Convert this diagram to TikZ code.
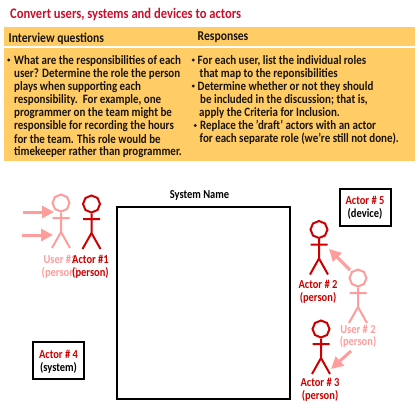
\documentclass[tikz,border=0pt]{standalone}
\usepackage{fontspec}
\setmainfont{Carlito}[BoldFont=Carlito Bold,FakeStretch=0.86]
\usetikzlibrary{arrows.meta,shapes.geometric}
\definecolor{band}{HTML}{FFCC66}
\definecolor{darkred}{HTML}{CC0000}
\definecolor{lightred}{HTML}{FF9C9C}
\definecolor{titlered}{HTML}{C8102E}
\definecolor{bodyink}{HTML}{1A1410}
\tikzset{
  x=1pt,y=-1pt,
  bandbox/.style={fill=band,draw=none},
  linetext/.style={anchor=west,inner sep=0pt,font=\fontsize{12.75}{13}\bfseries\selectfont,text=bodyink},
  dotmark/.style={circle,fill=bodyink,draw=none,inner sep=0pt,minimum size=3.2pt},
  headtext/.style={anchor=west,inner sep=0pt,font=\fontsize{13.5}{14}\bfseries\selectfont,text=bodyink},
  titletext/.style={anchor=west,inner sep=0pt,font=\fontsize{14.6}{15}\bfseries\selectfont,text=titlered},
  lab/.style={anchor=center,inner sep=0pt,font=\fontsize{12.2}{13}\bfseries\selectfont},
  blackbox/.style={draw=black,line width=2.2pt,fill=white},
  move/.style={draw=lightred,line width=3pt,-{Triangle[length=12pt,width=12pt,fill=lightred]}},
}
\newcommand{\stickfig}[4]{% name, cx, cy, colour
  \node[regular polygon,regular polygon sides=8,draw=#4,line width=2pt,minimum size=17pt,inner sep=0pt,shape border rotate=22.5] (#1head) at (#2,#3) {};
  \coordinate (#1hip) at (#2,#3+29);
  \coordinate (#1al) at (#2-8.5,#3+15);
  \coordinate (#1ar) at (#2+8.5,#3+15);
  \coordinate (#1fl) at (#2-9,#3+45);
  \coordinate (#1fr) at (#2+9,#3+45);
  \draw[#4,line width=2pt] (#1head.south) -- (#1hip) (#1al) -- (#1ar) (#1fl) -- (#1hip) -- (#1fr);
}
\begin{document}
\begin{tikzpicture}
\useasboundingbox[fill=white] (0,0) rectangle (420,420);
\node[titletext] (title) at (10,14.5) {Convert users, systems and devices to actors};
\fill[bandbox] (4,27) rectangle (415,46);
\fill[bandbox] (4,48) rectangle (415,161);
\node[headtext] (h1) at (8.5,38.5) {Interview questions};
\node[headtext] (h2) at (197.5,37.5) {Responses};
% left column
\node[dotmark] (b0) at (8.7,60) {};
\node[linetext] (l1) at (14,60.7) {What are the responsibilities of each};
\node[linetext] (l2) at (14,73.7) {user? Determine the role the person};
\node[linetext] (l3) at (14,86.7) {plays when supporting each};
\node[linetext] (l4) at (14,100) {responsibility.\ \ For example, one};
\node[linetext] (l5) at (14,113) {programmer on the team might be};
\node[linetext] (l6) at (14,126) {responsible for recording the hours};
\node[linetext] (l7) at (14,139) {for the team. This role would be};
\node[linetext] (l8) at (14,152) {timekeeper rather than programmer.};
% right column
\node[dotmark] (b1) at (193.3,60) {};
\node[linetext] (r1) at (197.5,60.7) {For each user, list the individual roles};
\node[linetext] (r2) at (199.5,73.7) {that map to the reponsibilities};
\node[dotmark] (b2) at (193.3,86) {};
\node[linetext] (r3) at (197.5,86.7) {Determine whether or not they should};
\node[linetext] (r4) at (200,100) {be included in the discussion; that is,};
\node[linetext] (r5) at (199,113) {apply the Criteria for Inclusion.};
\node[dotmark] (b3) at (195.3,125.5) {};
\node[linetext] (r6) at (200,126) {Replace the 'draft' actors with an actor};
\node[linetext] (r7) at (199.5,139) {for each separate role (we're still not done).};
% system
\node[draw=black,line width=2.4pt,fill=white,minimum width=173pt,minimum height=192pt,inner sep=0pt] (sys) at (203.5,303) {};
\node[lab,text=black] (sysname) at (199.5,195) {System Name};
% actor boxes
\node[blackbox,minimum width=51pt,minimum height=37pt,inner sep=0pt,align=center] (a5) at (365.5,207.5) {};
\node[lab,text=darkred] (a5a) at (365,200.5) {Actor \# 5};
\node[lab,text=black] (a5b) at (365,213.5) {(device)};
\node[blackbox,minimum width=51pt,minimum height=37pt,inner sep=0pt,align=center] (a4) at (58.5,360.5) {};
\node[lab,text=darkred] (a4a) at (58.5,354) {Actor \# 4};
\node[lab,text=black] (a4b) at (58.5,368) {(system)};
% user 1 and actor 1
\stickfig{ua}{61}{203}{lightred}
\node[lab,text=lightred] (ualab) at (60,259) {User \#1};
\node[lab,text=lightred] (ualabb) at (60,272.5) {(person)};
\stickfig{aa}{91.5}{204}{darkred}
\node[lab,text=darkred] (aalab) at (90.5,259.5) {Actor \#1};
\node[lab,text=darkred] (aalabb) at (90.5,273) {(person)};
\coordinate (ma) at (23,212);
\coordinate (mat) at (54,212);
\coordinate (mb) at (22,235);
\coordinate (mbt) at (53,235);
\draw[move] (ma) -- (mat);
\draw[move] (mb) -- (mbt);
% actor 2
\stickfig{ab}{319}{229.5}{darkred}
\node[lab,text=darkred] (ablab) at (318,284.5) {Actor \# 2};
\node[lab,text=darkred] (ablabb) at (318,298) {(person)};
% user 2
\stickfig{ub}{358}{278}{lightred}
\node[lab,text=lightred] (ublab) at (358,329) {User \# 2};
\node[lab,text=lightred] (ublabb) at (358,342) {(person)};
% actor 3
\stickfig{ac}{321}{329}{darkred}
\node[lab,text=darkred] (aclab) at (320,382.5) {Actor \# 3};
\node[lab,text=darkred] (aclabb) at (320,396) {(person)};
\coordinate (mc) at (350,270);
\coordinate (mct) at (329,249);
\coordinate (md) at (351,351);
\coordinate (mdt) at (331,369);
\draw[move] (mc) -- (mct);
\draw[move] (md) -- (mdt);
\end{tikzpicture}
\end{document}
